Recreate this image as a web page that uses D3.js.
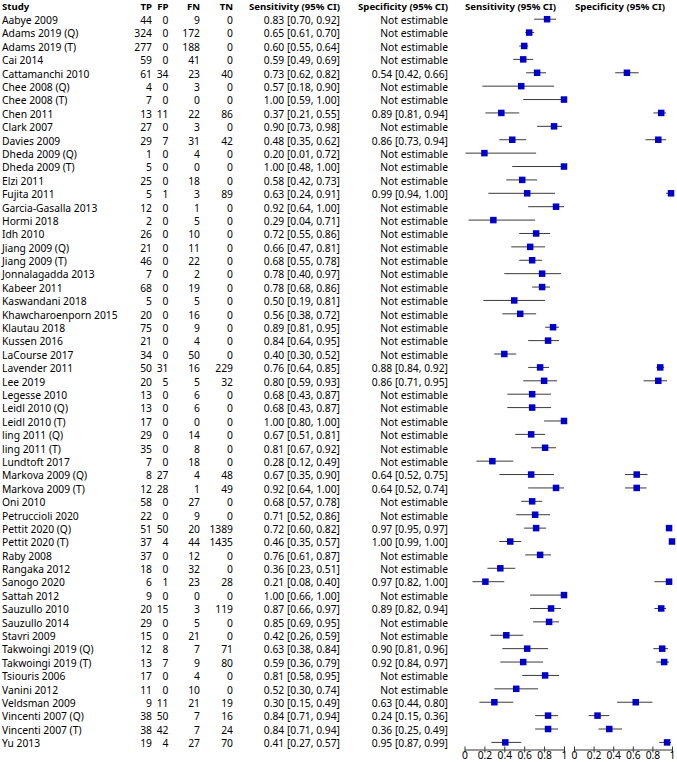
<!DOCTYPE html>
<html><head><meta charset="utf-8">
<script src="https://cdn.jsdelivr.net/npm/d3@7"></script>
<style>
body{margin:0;background:#fff;}
text{font-family:"Noto Sans",sans-serif;font-size:10.3px;fill:#000;}
.hdr{font-weight:bold;font-size:9.6px;}
</style></head>
<body><svg id="c" width="677" height="762"></svg>
<script>
const studies=["Aabye 2009","Adams 2019 (Q)","Adams 2019 (T)","Cai 2014","Cattamanchi 2010","Chee 2008 (Q)","Chee 2008 (T)","Chen 2011","Clark 2007","Davies 2009","Dheda 2009 (Q)","Dheda 2009 (T)","Elzi 2011","Fujita 2011","Garcia-Gasalla 2013","Hormi 2018","Idh 2010","Jiang 2009 (Q)","Jiang 2009 (T)","Jonnalagadda 2013","Kabeer 2011","Kaswandani  2018","Khawcharoenporn 2015","Klautau 2018","Kussen 2016","LaCourse 2017","Lavender 2011","Lee 2019","Legesse 2010","Leidl 2010 (Q)","Leidl 2010 (T)","ling  2011 (Q)","ling  2011 (T)","Lundtoft 2017","Markova 2009 (Q)","Markova 2009 (T)","Oni  2010","Petruccioli 2020","Pettit 2020 (Q)","Pettit 2020 (T)","Raby 2008","Rangaka 2012","Sanogo 2020","Sattah 2012","Sauzullo 2010","Sauzullo 2014","Stavri 2009","Takwoingi 2019 (Q)","Takwoingi 2019 (T)","Tsiouris 2006","Vanini 2012","Veldsman 2009","Vincenti 2007 (Q)","Vincenti 2007 (T)","Yu 2013"];
const TP=[44,324,277,59,61,4,7,13,27,29,1,5,25,5,12,2,26,21,46,7,68,5,20,75,21,34,50,20,13,13,17,29,35,7,8,12,58,22,51,37,37,18,6,9,20,29,15,12,13,17,11,9,38,38,19];
const FP=[0,0,0,0,34,0,0,11,0,7,0,0,0,1,0,0,0,0,0,0,0,0,0,0,0,0,31,5,0,0,0,0,0,0,27,28,0,0,50,4,0,0,1,0,15,0,0,8,7,0,0,11,50,42,4];
const FN=[9,172,188,41,23,3,0,22,3,31,4,0,18,3,1,5,10,11,22,2,19,5,16,9,4,50,16,5,6,6,0,14,8,18,4,1,27,9,20,44,12,32,23,0,3,5,21,7,9,4,10,21,7,7,27];
const TN=[0,0,0,0,40,0,0,86,0,42,0,0,0,89,0,0,0,0,0,0,0,0,0,0,0,0,229,32,0,0,0,0,0,0,48,49,0,0,1389,1435,0,0,28,0,119,0,0,71,80,0,0,19,16,24,70];
const sens=[0.83,0.65,0.60,0.59,0.73,0.57,1.00,0.37,0.90,0.48,0.20,1.00,0.58,0.63,0.92,0.29,0.72,0.66,0.68,0.78,0.78,0.50,0.56,0.89,0.84,0.40,0.76,0.80,0.68,0.68,1.00,0.67,0.81,0.28,0.67,0.92,0.68,0.71,0.72,0.46,0.76,0.36,0.21,1.00,0.87,0.85,0.42,0.63,0.59,0.81,0.52,0.30,0.84,0.84,0.41];
const sensLo=[0.70,0.61,0.55,0.49,0.62,0.18,0.59,0.21,0.73,0.35,0.01,0.48,0.42,0.24,0.64,0.04,0.55,0.47,0.55,0.40,0.68,0.19,0.38,0.81,0.64,0.30,0.64,0.59,0.43,0.43,0.80,0.51,0.67,0.12,0.35,0.64,0.57,0.52,0.60,0.35,0.61,0.23,0.08,0.66,0.66,0.69,0.26,0.38,0.36,0.58,0.30,0.15,0.71,0.71,0.27];
const sensHi=[0.92,0.70,0.64,0.69,0.82,0.90,1.00,0.55,0.98,0.62,0.72,1.00,0.73,0.91,1.00,0.71,0.86,0.81,0.78,0.97,0.86,0.81,0.72,0.95,0.95,0.52,0.85,0.93,0.87,0.87,1.00,0.81,0.92,0.49,0.90,1.00,0.78,0.86,0.82,0.57,0.87,0.51,0.40,1.00,0.97,0.95,0.59,0.84,0.79,0.95,0.74,0.49,0.94,0.94,0.57];
const N=null;
const spec=[N,N,N,N,0.54,N,N,0.89,N,0.86,N,N,N,0.99,N,N,N,N,N,N,N,N,N,N,N,N,0.88,0.86,N,N,N,N,N,N,0.64,0.64,N,N,0.97,1.00,N,N,0.97,N,0.89,N,N,0.90,0.92,N,N,0.63,0.24,0.36,0.95];
const specLo=[N,N,N,N,0.42,N,N,0.81,N,0.73,N,N,N,0.94,N,N,N,N,N,N,N,N,N,N,N,N,0.84,0.71,N,N,N,N,N,N,0.52,0.52,N,N,0.95,0.99,N,N,0.82,N,0.82,N,N,0.81,0.84,N,N,0.44,0.15,0.25,0.87];
const specHi=[N,N,N,N,0.66,N,N,0.94,N,0.94,N,N,N,1.00,N,N,N,N,N,N,N,N,N,N,N,N,0.92,0.95,N,N,N,N,N,N,0.75,0.74,N,N,0.97,1.00,N,N,1.00,N,0.94,N,N,0.96,0.97,N,N,0.80,0.36,0.49,0.99];
const ticks=[0,0.2,0.4,0.6,0.8,1];
const tickLabels=["0","0.2","0.4","0.6","0.8","1"];

const svg=d3.select("#c");
const y=d3.scalePoint().domain(studies).range([20.4,743.6]);
const xs=d3.scaleLinear().domain([0,1]).range([464.5,564]);
const xp=d3.scaleLinear().domain([0,1]).range([574,672]);
const hyBase=10.3;
const f2=v=>v.toFixed(2);
const ci=(v,l,h)=>`${f2(v)} [${f2(l)}, ${f2(h)}]`;

// headers
const hdrs=[["Study",2,"start"],["TP",152,"end"],["FP",168.5,"end"],["FN",200,"end"],["TN",233,"end"],["Sensitivity (95% CI)",340,"end"],["Specificity (95% CI)",448,"end"],["Sensitivity (95% CI)",465,"start"],["Specificity (95% CI)",575,"start"]];
svg.selectAll("text.hdr").data(hdrs).join("text").attr("class","hdr")
  .attr("x",d=>d[1]).attr("y",hyBase).attr("text-anchor",d=>d[2]).text(d=>d[0]);

const rows=studies.map((s,i)=>({s,i}));
const g=svg.append("g");
const col=(acc,x,anchor)=>g.selectAll(null).data(rows).join("text")
  .attr("x",x).attr("y",d=>y(d.s)).attr("dy","0.35em").attr("text-anchor",anchor).text(acc);
col(d=>d.s,2,"start");
col(d=>TP[d.i],152,"end");
col(d=>FP[d.i],168.5,"end");
col(d=>FN[d.i],200,"end");
col(d=>TN[d.i],233,"end");
col(d=>ci(sens[d.i],sensLo[d.i],sensHi[d.i]),340,"end");
col(d=>spec[d.i]==null?"Not estimable":ci(spec[d.i],specLo[d.i],specHi[d.i]),448,"end");

const sz=6.5, off=-1.2;
g.selectAll(null).data(rows).join("line")
  .attr("x1",d=>xs(sensLo[d.i])).attr("x2",d=>xs(sensHi[d.i]))
  .attr("y1",d=>y(d.s)+off).attr("y2",d=>y(d.s)+off).attr("stroke","#3a3a3a").attr("stroke-width",1);
g.selectAll(null).data(rows).join("rect")
  .attr("x",d=>xs(sens[d.i])-sz/2).attr("y",d=>y(d.s)+off-sz/2).attr("width",sz).attr("height",sz).attr("fill","#0000c8");
const sp=rows.filter(d=>spec[d.i]!=null);
g.selectAll(null).data(sp).join("line")
  .attr("x1",d=>xp(specLo[d.i])).attr("x2",d=>xp(specHi[d.i]))
  .attr("y1",d=>y(d.s)+off).attr("y2",d=>y(d.s)+off).attr("stroke","#3a3a3a").attr("stroke-width",1);
g.selectAll(null).data(sp).join("rect")
  .attr("x",d=>xp(spec[d.i])-sz/2).attr("y",d=>y(d.s)+off-sz/2).attr("width",sz).attr("height",sz).attr("fill","#0000c8");

// axes
const ay=749.5;
[xs,xp].forEach(sc=>{
  const ax=svg.append("g").attr("transform",`translate(0,${ay})`);
  ax.call(d3.axisBottom(sc).tickValues(ticks).tickFormat((d,i)=>tickLabels[i]).tickSizeInner(3).tickSizeOuter(0));
  ax.select(".domain").attr("stroke","#333");
  ax.selectAll(".tick line").attr("y1",-3).attr("y2",3).attr("stroke","#333");
  ax.selectAll(".tick text").attr("font-family","Noto Sans").attr("font-size","9.3px").attr("fill","#000")
    .attr("y",9.6).attr("dy","0");
});
</script></body></html>
